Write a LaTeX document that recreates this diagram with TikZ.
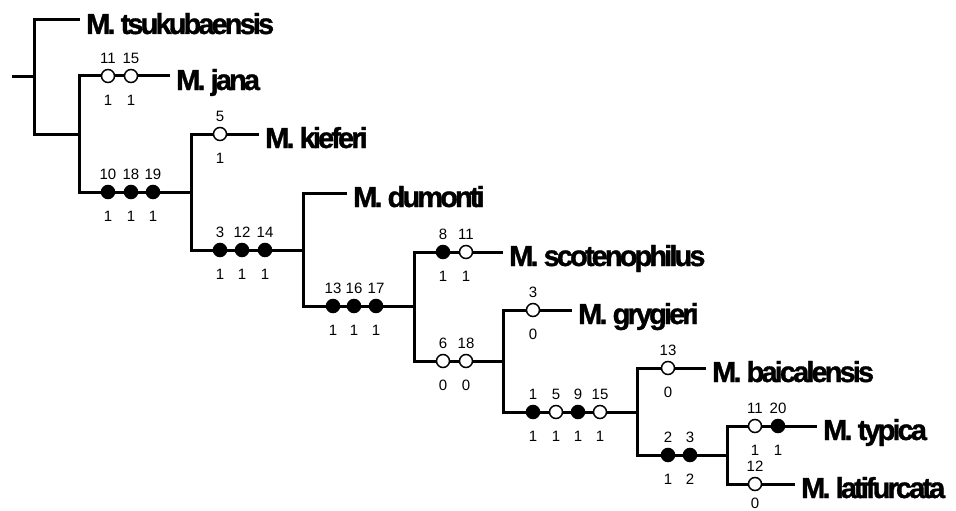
\documentclass[tikz,border=0pt]{standalone}
\usepackage{fontspec}
\setmainfont{Liberation Sans}
\newfontfamily\taxonfont[LetterSpace=-10, FakeBold=1.2]{Liberation Sans}
\usepackage{tikz}
\pgfdeclarelayer{edgelayer}
\pgfdeclarelayer{nodelayer}
\pgfsetlayers{edgelayer,nodelayer,main}
\tikzstyle{branch}=[draw=black, line width=3pt]
\tikzstyle{fullstate}=[circle, fill=black, draw=black, line width=1.5pt, minimum size=13pt, inner sep=0pt]
\tikzstyle{openstate}=[circle, fill=white, draw=black, line width=1.5pt, minimum size=13pt, inner sep=0pt]
\tikzstyle{taxon}=[anchor=west, inner xsep=6pt, inner ysep=0pt, text height=28pt, text depth=0pt, font=\taxonfont\bfseries\fontsize{29}{29}\selectfont]
\tikzstyle{charno}=[inner sep=0pt, text height=11pt, text depth=0pt, font=\fontsize{15}{15}\selectfont]

\begin{document}
\begin{tikzpicture}[x=1pt, y=-1pt]
	\useasboundingbox (0,0) rectangle (956,511);
	\begin{pgfonlayer}{nodelayer}
		\coordinate (r) at (12, 77);
		\coordinate (n1) at (34, 77);
		\coordinate (n2) at (79, 134);
		\coordinate (n3) at (191, 192);
		\coordinate (n4) at (303, 250);
		\coordinate (n5) at (414, 306);
		\coordinate (n6) at (503, 361);
		\coordinate (n7) at (637, 412);
		\coordinate (n8) at (727, 455);
		\node [style=taxon] (t1) at (80, 20) {M. tsukubaensis};
		\node [style=taxon] (t2) at (170, 76) {M. jana};
		\node [style=taxon] (t3) at (259, 134) {M. kieferi};
		\node [style=taxon] (t4) at (347, 193) {M. dumonti};
		\node [style=taxon] (t5) at (503, 252) {M. scotenophilus};
		\node [style=taxon] (t6) at (572, 310) {M. grygieri};
		\node [style=taxon] (t7) at (706, 368) {M. baicalensis};
		\node [style=taxon] (t8) at (817, 426) {M. typica};
		\node [style=taxon] (t9) at (795, 484) {M. latifurcata};
		% characters on each branch
		\node [style=openstate] (c1) at (108, 76) {};
		\node [style=charno] (a1) at (108, 58) {11};
		\node [style=charno] (b1) at (108, 100) {1};
		\node [style=openstate] (c2) at (131, 76) {};
		\node [style=charno] (a2) at (131, 58) {15};
		\node [style=charno] (b2) at (131, 100) {1};
		\node [style=fullstate] (c3) at (108, 192) {};
		\node [style=charno] (a3) at (108, 174) {10};
		\node [style=charno] (b3) at (108, 216) {1};
		\node [style=fullstate] (c4) at (131, 192) {};
		\node [style=charno] (a4) at (131, 174) {18};
		\node [style=charno] (b4) at (131, 216) {1};
		\node [style=fullstate] (c5) at (153, 192) {};
		\node [style=charno] (a5) at (153, 174) {19};
		\node [style=charno] (b5) at (153, 216) {1};
		\node [style=openstate] (c6) at (220, 134) {};
		\node [style=charno] (a6) at (220, 116) {5};
		\node [style=charno] (b6) at (220, 158) {1};
		\node [style=fullstate] (c7) at (220, 250) {};
		\node [style=charno] (a7) at (220, 232) {3};
		\node [style=charno] (b7) at (220, 274) {1};
		\node [style=fullstate] (c8) at (242, 250) {};
		\node [style=charno] (a8) at (242, 232) {12};
		\node [style=charno] (b8) at (242, 274) {1};
		\node [style=fullstate] (c9) at (265, 250) {};
		\node [style=charno] (a9) at (265, 232) {14};
		\node [style=charno] (b9) at (265, 274) {1};
		\node [style=fullstate] (c10) at (333, 306) {};
		\node [style=charno] (a10) at (333, 288) {13};
		\node [style=charno] (b10) at (333, 330) {1};
		\node [style=fullstate] (c11) at (354, 306) {};
		\node [style=charno] (a11) at (354, 288) {16};
		\node [style=charno] (b11) at (354, 330) {1};
		\node [style=fullstate] (c12) at (376, 306) {};
		\node [style=charno] (a12) at (376, 288) {17};
		\node [style=charno] (b12) at (376, 330) {1};
		\node [style=fullstate] (c13) at (443, 252) {};
		\node [style=charno] (a13) at (443, 234) {8};
		\node [style=charno] (b13) at (443, 276) {1};
		\node [style=openstate] (c14) at (466, 252) {};
		\node [style=charno] (a14) at (466, 234) {11};
		\node [style=charno] (b14) at (466, 276) {1};
		\node [style=openstate] (c15) at (443, 361) {};
		\node [style=charno] (a15) at (443, 343) {6};
		\node [style=charno] (b15) at (443, 385) {0};
		\node [style=openstate] (c16) at (466, 361) {};
		\node [style=charno] (a16) at (466, 343) {18};
		\node [style=charno] (b16) at (466, 385) {0};
		\node [style=openstate] (c17) at (533, 310) {};
		\node [style=charno] (a17) at (533, 292) {3};
		\node [style=charno] (b17) at (533, 334) {0};
		\node [style=fullstate] (c18) at (533, 412) {};
		\node [style=charno] (a18) at (533, 394) {1};
		\node [style=charno] (b18) at (533, 436) {1};
		\node [style=openstate] (c19) at (556, 412) {};
		\node [style=charno] (a19) at (556, 394) {5};
		\node [style=charno] (b19) at (556, 436) {1};
		\node [style=fullstate] (c20) at (578, 412) {};
		\node [style=charno] (a20) at (578, 394) {9};
		\node [style=charno] (b20) at (578, 436) {1};
		\node [style=openstate] (c21) at (600, 412) {};
		\node [style=charno] (a21) at (600, 394) {15};
		\node [style=charno] (b21) at (600, 436) {1};
		\node [style=openstate] (c22) at (668, 368) {};
		\node [style=charno] (a22) at (668, 350) {13};
		\node [style=charno] (b22) at (668, 392) {0};
		\node [style=fullstate] (c23) at (668, 455) {};
		\node [style=charno] (a23) at (668, 437) {2};
		\node [style=charno] (b23) at (668, 479) {1};
		\node [style=fullstate] (c24) at (690, 455) {};
		\node [style=charno] (a24) at (690, 437) {3};
		\node [style=charno] (b24) at (690, 479) {2};
		\node [style=openstate] (c25) at (755, 426) {};
		\node [style=charno] (a25) at (755, 408) {11};
		\node [style=charno] (b25) at (755, 450) {1};
		\node [style=fullstate] (c26) at (778, 426) {};
		\node [style=charno] (a26) at (778, 408) {20};
		\node [style=charno] (b26) at (778, 450) {1};
		\node [style=openstate] (c27) at (755, 484) {};
		\node [style=charno] (a27) at (755, 466) {12};
		\node [style=charno] (b27) at (755, 503) {0};
	\end{pgfonlayer}
	\begin{pgfonlayer}{edgelayer}
		\draw [style=branch] (r) to (n1);
		\draw [style=branch] (n1) |- (t1);
		\draw [style=branch] (n1) |- (n2);
		\draw [style=branch] (n2) |- (t2);
		\draw [style=branch] (n2) |- (n3);
		\draw [style=branch] (n3) |- (t3);
		\draw [style=branch] (n3) |- (n4);
		\draw [style=branch] (n4) |- (t4);
		\draw [style=branch] (n4) |- (n5);
		\draw [style=branch] (n5) |- (t5);
		\draw [style=branch] (n5) |- (n6);
		\draw [style=branch] (n6) |- (t6);
		\draw [style=branch] (n6) |- (n7);
		\draw [style=branch] (n7) |- (t7);
		\draw [style=branch] (n7) |- (n8);
		\draw [style=branch] (n8) |- (t8);
		\draw [style=branch] (n8) |- (t9);
	\end{pgfonlayer}
\end{tikzpicture}
\end{document}
